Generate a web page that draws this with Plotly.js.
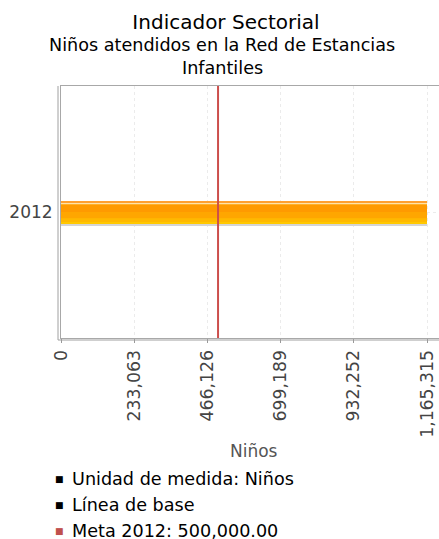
<!DOCTYPE html>
<html>
<head>
<meta charset="utf-8">
<script src="https://cdn.plot.ly/plotly-3.0.1.min.js"></script>
<style>html,body{margin:0;padding:0;background:#fff;}#chart{width:439px;height:539px;}</style>
</head>
<body>
<div id="chart"></div>
<script>
// Data
var categories = ['2012'];
var values = [1165315];
var metaValue = 500000;
var tickVals = [0, 233063, 466126, 699189, 932252, 1165315];
var tickText = ['0', '233,063', '466,126', '699,189', '932,252', '1,165,315'];
var legendItems = ['Unidad de medida: Niños', 'Línea de base', 'Meta 2012: 500,000.00'];
var legendColors = ['#000000', '#000000', '#C0504D'];
var titleText = 'Indicador Sectorial';
var subtitleLines = ['Niños atendidos en la Red de Estancias', 'Infantiles'];
var xTitle = 'Niños';

var FONT = 'DejaVu Sans, Verdana, sans-serif';

// Layered bars to imitate the gradient fill
var layers = [
  {offset: -0.056, width: 0.010, color: '#D4D4D4'},
  {offset: -0.048, width: 0.080, color: '#FFC800'},
  {offset: -0.040, width: 0.068, color: '#FFB800'},
  {offset: -0.025, width: 0.055, color: '#FFA600'},
  {offset: 0.000,  width: 0.031, color: '#FF9A00'},
  {offset: 0.031,  width: 0.005, color: '#FFE2A8'},
  {offset: 0.036,  width: 0.008, color: '#FFA030'}
];
var traces = layers.map(function (L) {
  return {
    type: 'bar', orientation: 'h',
    y: categories, x: values,
    width: L.width, offset: L.offset,
    marker: {color: L.color, line: {width: 0}},
    hoverinfo: 'x', showlegend: false
  };
});

var xMax = values[0] * 378 / 366;

var plotTop = 86, plotBottom = 338;
function yPaper(py) { return (plotBottom - py) / (plotBottom - plotTop); }
var annotations = subtitleLines.map(function (t, i) {
  return {
    text: t, xref: 'paper', yref: 'paper', showarrow: false,
    x: (222 - 61) / 378, xanchor: 'center',
    y: yPaper(45 + i * 23), yanchor: 'middle',
    font: {family: FONT, size: 17.6, color: '#000'}
  };
});
legendItems.forEach(function (t, i) {
  var py = 479 + i * 26;
  annotations.push({
    text: '■', xref: 'paper', yref: 'paper', showarrow: false,
    x: (59.5 - 61) / 378, xanchor: 'center', y: yPaper(py), yanchor: 'middle',
    font: {family: FONT, size: 9, color: legendColors[i]}
  });
  annotations.push({
    text: t, xref: 'paper', yref: 'paper', showarrow: false,
    x: (70 - 61) / 378, xanchor: 'left', y: yPaper(py), yanchor: 'middle',
    font: {family: FONT, size: 17.6, color: '#000'}
  });
});
annotations.push({
  text: xTitle, xref: 'paper', yref: 'paper', showarrow: false,
  x: (253.5 - 61) / 378, xanchor: 'center', y: yPaper(451), yanchor: 'middle',
  font: {family: FONT, size: 17, color: '#555'}
});

var shapes = [
  {type: 'line', xref: 'x', yref: 'paper', x0: metaValue, x1: metaValue, y0: 0, y1: 1,
   line: {color: '#CC4F4C', width: 2}},
  // outer frame lines (double border look)
  {type: 'line', xref: 'paper', yref: 'paper', x0: -3 / 378, x1: -3 / 378, y0: -2 / 252, y1: 1,
   line: {color: '#A0A0A0', width: 1}},
  {type: 'line', xref: 'paper', yref: 'paper', x0: -3 / 378, x1: 1, y0: -2 / 252, y1: -2 / 252,
   line: {color: '#A0A0A0', width: 1}}
];

var layout = {
  width: 439, height: 539,
  margin: {l: 61, r: 0, t: 86, b: 201},
  paper_bgcolor: '#fff', plot_bgcolor: '#fff',
  font: {family: FONT, color: '#444'},
  title: {
    text: titleText, xref: 'container', yref: 'container',
    x: 226 / 439, xanchor: 'center', y: 1 - 22 / 539, yanchor: 'middle',
    font: {family: FONT, size: 20, color: '#000'}
  },
  barmode: 'overlay',
  showlegend: false,
  xaxis: {
    range: [0, xMax], tickvals: tickVals, ticktext: tickText,
    tickangle: -90, tickfont: {family: FONT, size: 17.3, color: '#444'},
    ticks: 'outside', ticklen: 4, tickcolor: '#999',
    showgrid: true, gridcolor: '#EBEBEB', griddash: 'dot', gridwidth: 1,
    showline: true, linecolor: '#A8A8A8', linewidth: 1, mirror: true,
    zeroline: false, fixedrange: true
  },
  yaxis: {
    type: 'category', range: [-0.5, 0.5],
    tickfont: {family: FONT, size: 17, color: '#444'},
    ticks: '', ticklabelstandoff: 4,
    showgrid: true, gridcolor: '#EBEBEB', griddash: 'dot',
    showline: true, linecolor: '#A8A8A8', linewidth: 1, mirror: true,
    zeroline: false, fixedrange: true
  },
  shapes: shapes,
  annotations: annotations
};

Plotly.newPlot('chart', traces, layout, {displayModeBar: false, staticPlot: true});
</script>
</body>
</html>
